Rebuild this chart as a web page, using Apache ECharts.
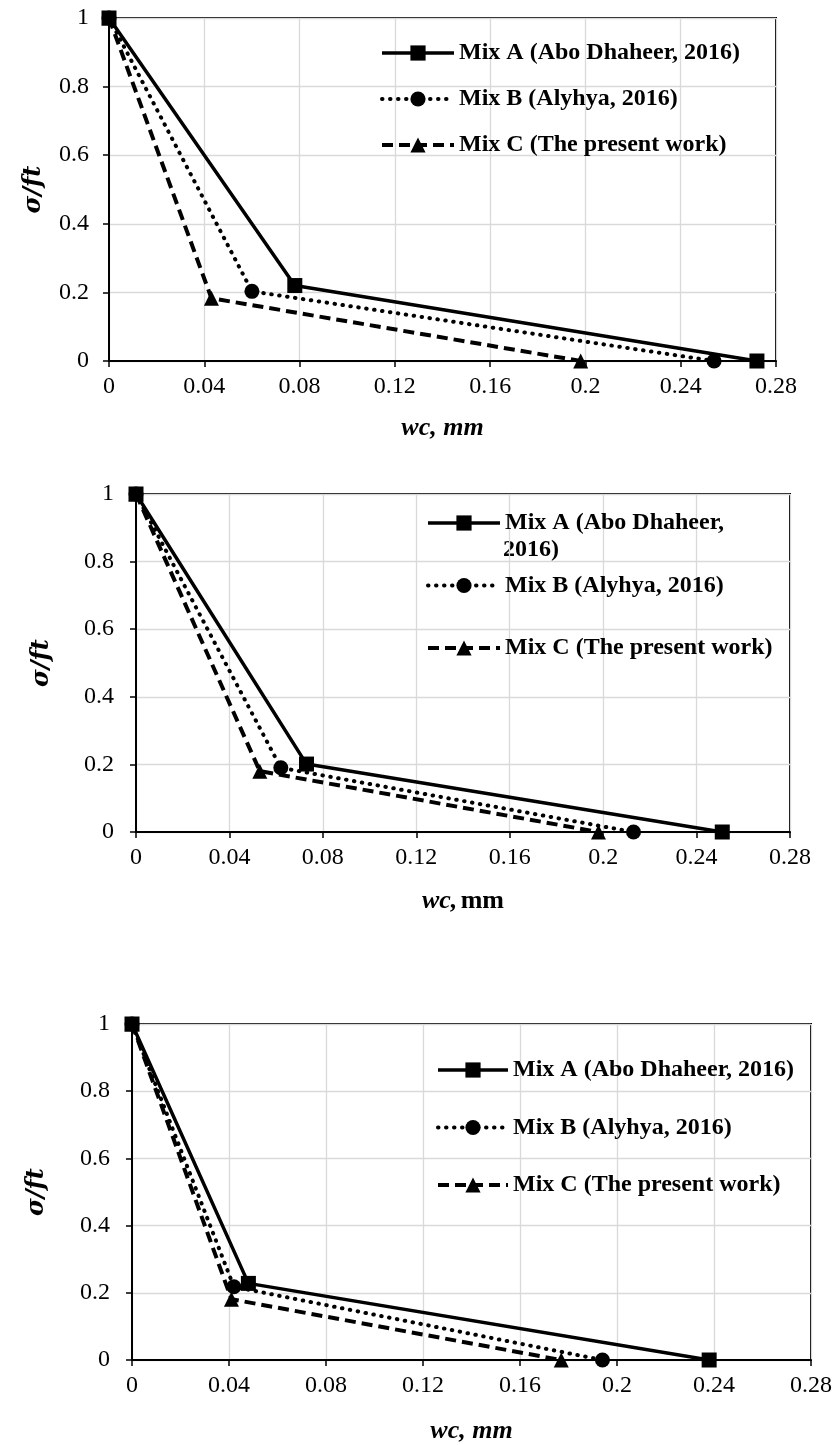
<!DOCTYPE html>
<html>
<head>
<meta charset="utf-8">
<title>Softening curves</title>
<script src="https://cdn.jsdelivr.net/npm/echarts@6/dist/echarts.min.js"></script>
<style>
  html, body { margin: 0; padding: 0; background: #fff; }
  #chart { width: 835px; height: 1445px; }
</style>
</head>
<body>
<div id="chart"></div>
<script>
// Series names
const nameA = 'Mix A (Abo Dhaheer, 2016)';
const nameB = 'Mix B (Alyhya, 2016)';
const nameC = 'Mix C (The present work)';

// Tick labels
const xTickLabels = ['0', '0.04', '0.08', '0.12', '0.16', '0.2', '0.24', '0.28'];
const yTickLabels = ['0', '0.2', '0.4', '0.6', '0.8', '1'];

// Panel 1: [wc (mm), sigma/ft]
const p1MixA = [[0, 1], [0.078, 0.22], [0.272, 0]];
const p1MixB = [[0, 1], [0.060, 0.203], [0.254, 0]];
const p1MixC = [[0, 1], [0.043, 0.183], [0.198, 0]];

// Panel 2
const p2MixA = [[0, 1], [0.073, 0.201], [0.251, 0]];
const p2MixB = [[0, 1], [0.062, 0.190], [0.213, 0]];
const p2MixC = [[0, 1], [0.053, 0.180], [0.198, 0]];

// Panel 3
const p3MixA = [[0, 1], [0.048, 0.228], [0.238, 0]];
const p3MixB = [[0, 1], [0.042, 0.218], [0.194, 0]];
const p3MixC = [[0, 1], [0.041, 0.181], [0.177, 0]];

const serif = 'Liberation Serif';
const black = '#000';

const grids = [
  { left: 109, top: 18, width: 667, height: 343 },
  { left: 136, top: 494, width: 654, height: 338 },
  { left: 132, top: 1024, width: 680, height: 336 }
];

function xAxisFor(i, nameGap, richName) {
  const ax = {
    type: 'value', gridIndex: i, min: 0, max: 0.28, interval: 0.04,
    axisLine: { show: true, onZero: false, lineStyle: { color: black, width: 2 } },
    axisTick: { show: true, inside: false, length: 6, lineStyle: { color: black, width: 1.5 } },
    splitLine: { show: true, lineStyle: { color: '#d9d9d9', width: 1.3 } },
    axisLabel: {
      color: black, fontFamily: serif, fontSize: 24, margin: 14,
      formatter: v => xTickLabels[Math.round(v / 0.04)]
    },
    nameLocation: 'middle', nameGap: nameGap
  };
  if (richName) {
    ax.name = '{i|wc,} {b|mm}';
    ax.nameTextStyle = {
      rich: {
        i: { fontFamily: serif, fontSize: 26, fontStyle: 'italic', fontWeight: 'bold', color: black },
        b: { fontFamily: serif, fontSize: 26, fontWeight: 'bold', color: black }
      }
    };
  } else {
    ax.name = 'wc, mm';
    ax.nameTextStyle = { fontFamily: serif, fontSize: 26, fontStyle: 'italic', fontWeight: 'bold', color: black };
  }
  return ax;
}

function yAxisFor(i, nameGap, labelMargin) {
  return {
    type: 'value', gridIndex: i, min: 0, max: 1, interval: 0.2,
    axisLine: { show: true, onZero: false, lineStyle: { color: black, width: 2 } },
    axisTick: { show: true, inside: false, length: 6, lineStyle: { color: black, width: 1.5 } },
    splitLine: { show: true, lineStyle: { color: '#d9d9d9', width: 1.3 } },
    axisLabel: {
      color: black, fontFamily: serif, fontSize: 24, margin: labelMargin,
      formatter: v => yTickLabels[Math.round(v / 0.2)]
    },
    name: 'σ/ft',
    nameLocation: 'middle', nameGap: nameGap,
    nameTextStyle: { fontFamily: 'DejaVu Serif', fontSize: 24, fontStyle: 'italic', fontWeight: 'bold', color: black }
  };
}

const styleA = { symbol: 'rect', symbolSize: 15, lineStyle: { color: black, width: 3.5, type: 'solid' } };
const styleB = { symbol: 'circle', symbolSize: 15, lineStyle: { color: black, width: 4, type: [0.5, 7.5], cap: 'round' } };
const styleC = { symbol: 'triangle', symbolSize: 15, lineStyle: { color: black, width: 4, type: [11, 6] } };

function lineSeries(name, style, data, i) {
  return {
    type: 'line', name: name, xAxisIndex: i, yAxisIndex: i, data: data,
    symbol: style.symbol, symbolSize: style.symbolSize, showSymbol: true,
    clip: false, animation: false,
    itemStyle: { color: black, borderWidth: 0 },
    lineStyle: style.lineStyle
  };
}

const legendText = { fontFamily: serif, fontWeight: 'bold', fontSize: 24, color: black, lineHeight: 28 };

function legendFor(left, top, gap, width, formatter) {
  const lg = {
    orient: 'vertical', left: left, top: top, padding: 0, itemGap: gap,
    itemWidth: width, itemHeight: 19, selectedMode: false,
    data: [
      { name: nameA, lineStyle: Object.assign({}, styleA.lineStyle) },
      { name: nameB, lineStyle: Object.assign({}, styleB.lineStyle) },
      { name: nameC, lineStyle: Object.assign({}, styleC.lineStyle) }
    ],
    textStyle: legendText
  };
  if (formatter) lg.formatter = formatter;
  return lg;
}

const chart = echarts.init(document.getElementById('chart'), null, { renderer: 'canvas' });

chart.setOption({
  backgroundColor: '#fff',
  animation: false,
  grid: grids.map(g => Object.assign({ show: true, borderColor: black, borderWidth: 2, backgroundColor: 'transparent' }, g)),
  xAxis: [xAxisFor(0, 54, false), xAxisFor(1, 56, true), xAxisFor(2, 58, false)],
  yAxis: [yAxisFor(0, 63, 20), yAxisFor(1, 82, 22), yAxisFor(2, 83, 22)],
  legend: [
    legendFor(380, 39, 18, 72),
    legendFor(426, 509, 34.5, 72, n => (n === nameA ? 'Mix A (Abo Dhaheer,' : n)),
    legendFor(436, 1056, 29.5, 70)
  ],
  graphic: [{
    type: 'text', left: 503, top: 538,
    style: { text: '2016)', fontFamily: serif, fontWeight: 'bold', fontSize: 24, fill: black }
  }],
  series: [
    lineSeries(nameA, styleA, p1MixA, 0),
    lineSeries(nameB, styleB, p1MixB, 0),
    lineSeries(nameC, styleC, p1MixC, 0),
    lineSeries(nameA, styleA, p2MixA, 1),
    lineSeries(nameB, styleB, p2MixB, 1),
    lineSeries(nameC, styleC, p2MixC, 1),
    lineSeries(nameA, styleA, p3MixA, 2),
    lineSeries(nameB, styleB, p3MixB, 2),
    lineSeries(nameC, styleC, p3MixC, 2)
  ]
});
</script>
</body>
</html>
